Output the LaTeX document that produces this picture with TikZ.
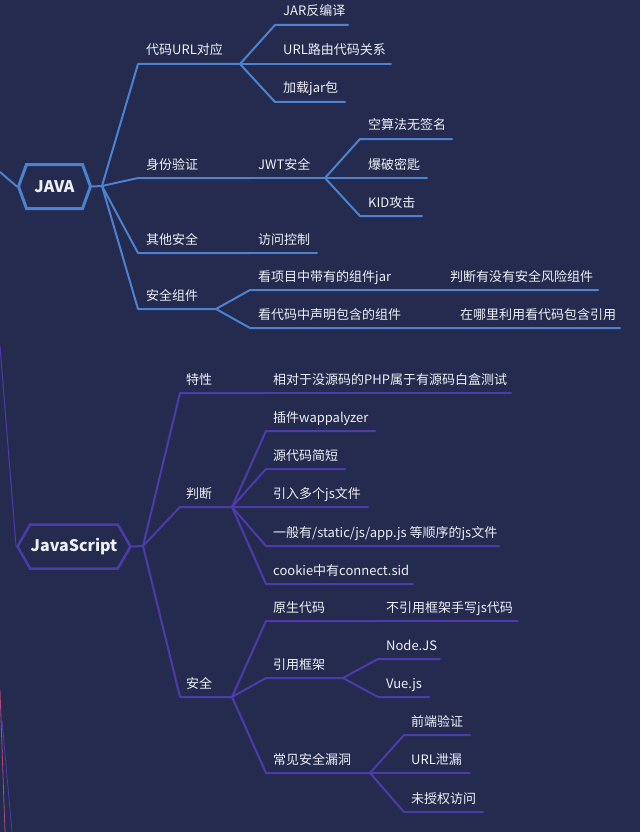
\documentclass[tikz,border=0pt]{standalone}
\usepackage{fontspec}
\newfontfamily\cjk{Noto Sans CJK SC}
\usetikzlibrary{shapes.symbols,positioning}
\definecolor{bgnavy}{RGB}{37,43,79}
\definecolor{javablue}{RGB}{76,130,208}
\definecolor{jspurple}{RGB}{78,58,170}
\definecolor{txtwhite}{RGB}{238,240,246}
\definecolor{pinkline}{RGB}{170,75,130}
\tikzset{
  lbl/.style={font=\cjk\fontsize{13}{15}\selectfont,text=txtwhite,inner sep=0pt,anchor=base west},
  jline/.style={draw=javablue,line width=2pt,line join=round,line cap=round},
  sline/.style={draw=jspurple,line width=2pt,line join=round,line cap=round},
  hexroot/.style={signal,signal to=west and east,draw,line width=3pt,text=txtwhite,font=\cjk\bfseries\fontsize{16}{18}\selectfont,inner sep=0pt}
}

\begin{document}
\begin{tikzpicture}[x=1pt,y=-1pt]
\fill[bgnavy] (0,0) rectangle (640,832);
\useasboundingbox (0,0) rectangle (640,832);

\node[hexroot,draw=javablue,minimum width=72pt,minimum height=44pt,signal pointer angle=140] (java) at (54.5,186.5) {JAVA};
\node[hexroot,draw=jspurple,line width=2.5pt,minimum width=113pt,minimum height=44pt,signal pointer angle=120] (js) at (74,546.5) {JavaScript};

\coordinate (javain) at (0,172);
\coordinate (jsin) at (0,346);
\coordinate (jhub) at (102,186);
\coordinate (shub) at (143,546);
\draw[jline] (javain) -- (java.west);
\draw[sline,line width=1pt] (jsin) -- (js.west);
\draw[jline] (java.east) -- (jhub);
\draw[sline] (js.east) -- (shub);

\foreach \y/\e/\t [count=\n] in {64/240/代码URL对应,178/250/身份验证,253/250/其他安全,309/216/安全组件}{
  \coordinate (ja\n) at (138,\y);
  \coordinate (jb\n) at (\e,\y);
  \node[lbl] (jt\n) at (146,\y-9) {\t};
  \draw[jline] (jhub) -- (ja\n) -- (jb\n);
}

\foreach \y/\e/\t [count=\n] in {25/348/JAR反编译,64/391/URL路由代码关系,102/345/加载jar包}{
  \coordinate (ua\n) at (275,\y);
  \coordinate (ub\n) at (\e,\y);
  \node[lbl] (ut\n) at (283,\y-9) {\t};
  \draw[jline] (jb1) -- (ua\n) -- (ub\n);
}

\coordinate (wb) at (325,178);
\node[lbl] (wt) at (258,169) {JWT安全};
\draw[jline] (jb2) -- (wb);
\foreach \y/\e/\t [count=\n] in {139/452/空算法无签名,178/427/爆破密匙,216/422/KID攻击}{
  \coordinate (wa\n) at (360,\y);
  \coordinate (we\n) at (\e,\y);
  \node[lbl] (wk\n) at (368,\y-9) {\t};
  \draw[jline] (wb) -- (wa\n) -- (we\n);
}

\coordinate (fb) at (317,253);
\node[lbl] (ft) at (258,244) {访问控制};
\draw[jline] (jb3) -- (fb);

\foreach \y/\m/\e/\t/\s [count=\n] in {290/442/598/看项目中带有的组件jar/判断有没有安全风险组件,328/452/620/看代码中声明包含的组件/在哪里利用看代码包含引用}{
  \coordinate (ca\n) at (250,\y);
  \coordinate (cm\n) at (\m,\y);
  \coordinate (cb\n) at (\e,\y);
  \node[lbl] (ct\n) at (258,\y-9) {\t};
  \node[lbl] (cs\n) at (\m+8,\y-9) {\s};
  \draw[jline] (jb4) -- (ca\n) -- (cm\n) -- (cb\n);
}

\foreach \y/\e/\t [count=\n] in {393/266/特性,507/232/判断,697/232/安全}{
  \coordinate (sa\n) at (180,\y);
  \coordinate (sb\n) at (\e,\y);
  \node[lbl] (st\n) at (186,\y-9) {\t};
  \draw[sline] (shub) -- (sa\n) -- (sb\n);
}

\coordinate (tb) at (511,393);
\node[lbl] (tt) at (273,384) {相对于没源码的PHP属于有源码白盒测试};
\draw[sline] (sb1) -- (tb);

\foreach \y/\e/\t [count=\n] in {431/375/插件wappalyzer,469/345/源代码简短,507/368/引入多个js文件,546/499/{一般有/static/js/app.js 等顺序的js文件},584/413/cookie中有connect.sid}{
  \coordinate (pa\n) at (266,\y);
  \coordinate (pb\n) at (\e,\y);
  \node[lbl] (pt\n) at (273,\y-9) {\t};
  \draw[sline] (sb2) -- (pa\n) -- (pb\n);
}

\foreach \y/\e/\t [count=\n] in {621/378/原生代码,678/343/引用框架,773/370/常见安全漏洞}{
  \coordinate (ga\n) at (266,\y);
  \coordinate (gb\n) at (\e,\y);
  \node[lbl] (gt\n) at (273,\y-9) {\t};
  \draw[sline] (sb3) -- (ga\n) -- (gb\n);
}

\coordinate (yb) at (518,621);
\node[lbl] (yt) at (386,612) {不引用框架手写js代码};
\draw[sline] (gb1) -- (yb);

\foreach \y/\e/\t [count=\n] in {659/440/Node.JS,697/429/Vue.js}{
  \coordinate (fa\n) at (378,\y);
  \coordinate (fe\n) at (\e,\y);
  \node[lbl] (fk\n) at (386,\y-9) {\t};
  \draw[sline] (gb2) -- (fa\n) -- (fe\n);
}

\foreach \y/\e/\t [count=\n] in {735/470/前端验证,773/470/URL泄漏,812/483/未授权访问}{
  \coordinate (va\n) at (404,\y);
  \coordinate (ve\n) at (\e,\y);
  \node[lbl] (vk\n) at (411,\y-9) {\t};
  \draw[sline] (gb3) -- (va\n) -- (ve\n);
}

\coordinate (pk1) at (0,690);
\coordinate (pk2) at (5,832);
\coordinate (pu1) at (2,720);
\coordinate (pu2) at (12,832);
\draw[pinkline,line width=0.8pt] (pk1) -- (pk2);
\draw[jspurple,line width=0.8pt] (pu1) -- (pu2);
\end{tikzpicture}
\end{document}
